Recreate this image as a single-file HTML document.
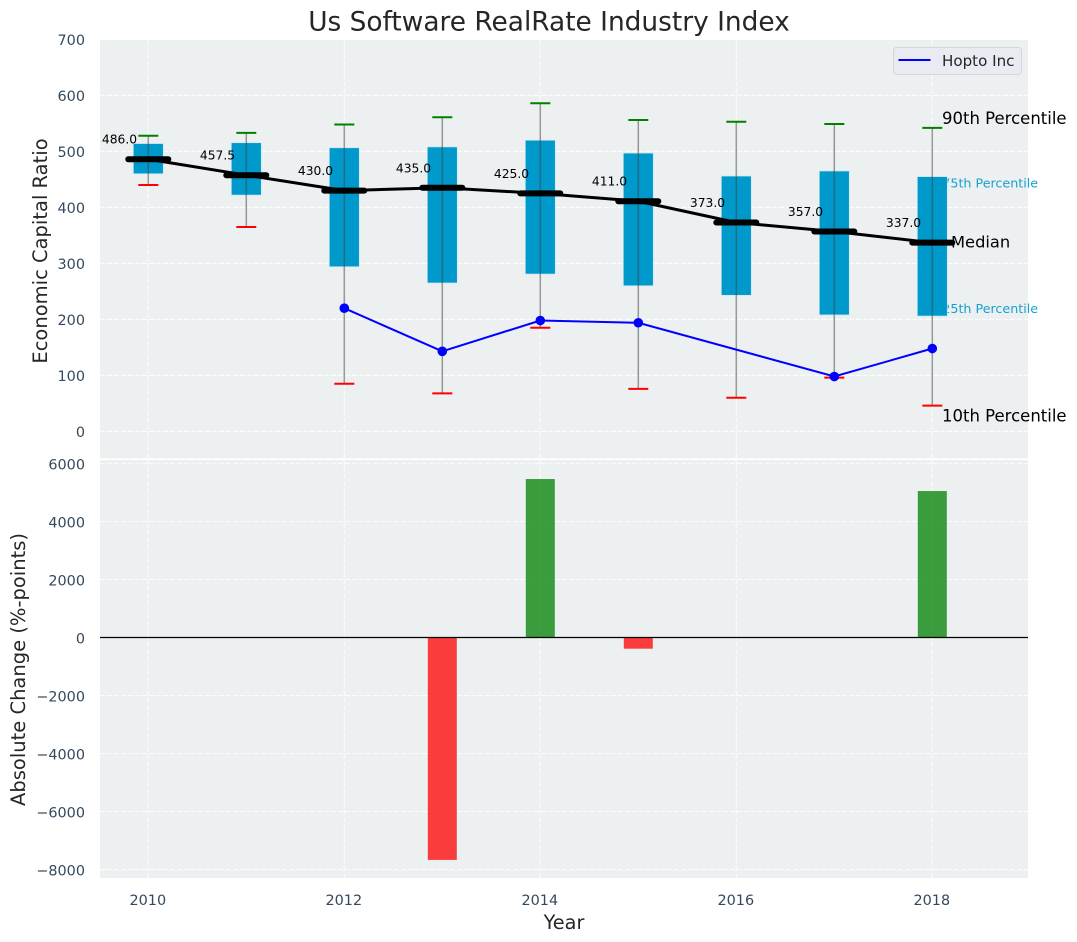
<!DOCTYPE html>
<html lang="en">
<head>
<meta charset="utf-8">
<title>Us Software RealRate Industry Index</title>
<style>
html,body{margin:0;padding:0;background:#fff;width:1077px;height:942px;overflow:hidden}
svg{display:block}
text{font-family:"DejaVu Sans","Liberation Sans",sans-serif}
</style>
</head>
<body>
<svg id="chart" xmlns="http://www.w3.org/2000/svg" width="1077" height="942" viewBox="0 0 1077 942">
  <rect x="100" y="40" width="928" height="419.5" fill="#ecf0f1"/>
  <rect x="100" y="459.5" width="928" height="418.5" fill="#ecf0f1"/>
  <g id="layer"></g>
  <line x1="100" x2="1028" y1="459.2" y2="459.2" stroke="#fff" stroke-width="1.6"/>
  <text x="549" y="30.5" text-anchor="middle" font-size="26.4" fill="#262626">Us Software RealRate Industry Index</text>
  <text transform="translate(47,251) rotate(-90)" text-anchor="middle" font-size="19.5" fill="#262626">Economic Capital Ratio</text>
  <text transform="translate(25,669.5) rotate(-90)" text-anchor="middle" font-size="19.5" fill="#262626">Absolute Change (%-points)</text>
  <text x="564" y="929" text-anchor="middle" font-size="19.3" fill="#262626">Year</text>
  <g>
    <rect x="893.5" y="47.5" width="128" height="27" rx="3" fill="#eaeaf2" stroke="#d5d5dc" stroke-width="1"/>
    <line x1="898.5" x2="930.5" y1="60" y2="60" stroke="#0000ff" stroke-width="2"/>
    <text x="942" y="66" font-size="15.1" fill="#262626">Hopto Inc</text>
  </g>
  <g id="annotations"></g>
</svg>
<script>
const years = [2010, 2011, 2012, 2013, 2014, 2015, 2016, 2017, 2018];
const p90 = [528, 533, 548, 561, 586, 556, 553, 549, 542];
const p75 = [514, 515.5, 506.5, 508, 520, 497, 456, 465, 455];
const median = [486, 457.5, 430, 435, 425, 411, 373, 357, 337];
const p25 = [460, 422, 294, 265, 281, 260, 243, 208, 206];
const p10 = [440, 365, 85, 68, 185, 76, 60, 96, 46];
const hopto = [null, null, 220, 143, 198, 194, null, 98, 148];
const changes = [0, 0, 0, -7670, 5465, -386, 0, 0, 5050];
const xTicks = [2010, 2012, 2014, 2016, 2018];
const topTicks = [0, 100, 200, 300, 400, 500, 600, 700];
const bottomTicks = [-8000, -6000, -4000, -2000, 0, 2000, 4000, 6000];

const NS = 'http://www.w3.org/2000/svg';
const layer = document.getElementById('layer');
function mk(tag, attrs, parent) {
  const el = document.createElementNS(NS, tag);
  for (const k in attrs) el.setAttribute(k, attrs[k]);
  (parent || layer).appendChild(el);
  return el;
}
function xPos(y) { return 148.3 + (y - 2010) * 98; }
function yTop(v) { return 431.4 - v * 0.56; }
function yBot(v) { return 637.5 - v * 0.029; }
function fmtTick(v) { return v < 0 ? '\u2212' + Math.abs(v) : String(v); }

const GRID = { stroke: '#ffffff', 'stroke-width': 1.1, 'stroke-dasharray': '5 2', opacity: 0.8 };

xTicks.forEach(function (t) {
  const a = mk('line', Object.assign({ x1: xPos(t), x2: xPos(t), y1: 40, y2: 459 }, GRID));
  
  
  const b = mk('line', Object.assign({ x1: xPos(t), x2: xPos(t), y1: 460, y2: 878 }, GRID));
  
  
  const lbl = mk('text', { x: xPos(t) - 0.5, y: 905, 'text-anchor': 'middle', 'font-size': 14.4, fill: '#34495e' });
  
  
  lbl.textContent = t;
});
topTicks.forEach(function (t) {
  const g = mk('line', Object.assign({ x1: 100, x2: 1028, y1: yTop(t), y2: yTop(t) }, GRID));
  
  
  const lbl = mk('text', { x: 85, y: yTop(t) + 5.7, 'text-anchor': 'end', 'font-size': 14.4, fill: '#34495e' });
  
  
  lbl.textContent = fmtTick(t);
});
bottomTicks.forEach(function (t) {
  const g = mk('line', Object.assign({ x1: 100, x2: 1028, y1: yBot(t), y2: yBot(t) }, GRID));
  
  
  const lbl = mk('text', { x: 85, y: yBot(t) + 6.2, 'text-anchor': 'end', 'font-size': 14.4, fill: '#34495e' });
  
  
  lbl.textContent = fmtTick(t);
});

const lastIdx = years.length - 1;
const lastX = xPos(years[lastIdx]);

const t75 = mk('text', { x: lastX + 10, y: yTop(p75[lastIdx]) + 11, 'font-size': 12.7, fill: '#0099cc', opacity: 0.9 });


t75.textContent = '75th Percentile';
const t25 = mk('text', { x: lastX + 10, y: yTop(p25[lastIdx]) - 3, 'font-size': 12.7, fill: '#0099cc', opacity: 0.9 });


t25.textContent = '25th Percentile';

years.forEach(function (y, i) {
  const x = xPos(y);
  const box = mk('rect', {
    x: x - 15, y: yTop(p75[i]), width: 30, height: yTop(p25[i]) - yTop(p75[i]),
    fill: '#0099cc', stroke: '#cfe6f0', 'stroke-width': 0.7
  });
  
  
  const stem = mk('line', { x1: x, x2: x, y1: yTop(p90[i]), y2: yTop(p10[i]), stroke: '#444', 'stroke-width': 1.5, opacity: 0.52 });
  
  
});

const medianLine = mk('polyline', {
  points: years.map(function (y, i) { return xPos(y) + ',' + yTop(median[i]); }).join(' '),
  fill: 'none', stroke: '#000', 'stroke-width': 3
});



years.forEach(function (y, i) {
  const x = xPos(y);
  const hi = mk('line', { x1: x - 10, x2: x + 10, y1: yTop(p90[i]), y2: yTop(p90[i]), stroke: '#008000', 'stroke-width': 2 });
  
  
  const lo = mk('line', { x1: x - 10, x2: x + 10, y1: yTop(p10[i]), y2: yTop(p10[i]), stroke: '#ff0000', 'stroke-width': 2 });
  
  
  const med = mk('line', { x1: x - 20, x2: x + 20, y1: yTop(median[i]), y2: yTop(median[i]), stroke: '#000', 'stroke-width': 6, 'stroke-linecap': 'round' });
  
  
  const val = mk('text', { x: x - 28.8, y: yTop(median[i]) - 15.5, 'text-anchor': 'middle', 'font-size': 12.3, fill: '#000' });
  
  
  val.textContent = median[i].toFixed(1);
});

const hoptoPts = [];
years.forEach(function (y, i) {
  if (hopto[i] !== null) hoptoPts.push(xPos(y) + ',' + yTop(hopto[i]));
});
const hoptoLine = mk('polyline', { points: hoptoPts.join(' '), fill: 'none', stroke: '#0000ff', 'stroke-width': 2 });


years.forEach(function (y, i) {
  if (hopto[i] === null) return;
  const pt = mk('circle', { cx: xPos(y), cy: yTop(hopto[i]), r: 4.8, fill: '#0000ff' });
  
  
});

const t90 = mk('text', { x: lastX + 9.7, y: yTop(p90[lastIdx]) - 4, 'font-size': 16.5, fill: '#000' });


t90.textContent = '90th Percentile';
const tMed = mk('text', { x: lastX + 18.7, y: yTop(median[lastIdx]) + 5, 'font-size': 16.3, fill: '#000' });


tMed.textContent = 'Median';
const t10 = mk('text', { x: lastX + 9.7, y: yTop(p10[lastIdx]) + 16, 'font-size': 16.5, fill: '#000' });


t10.textContent = '10th Percentile';

years.forEach(function (y, i) {
  const v = changes[i];
  if (v === 0) return;
  const top = Math.min(yBot(v), yBot(0));
  const bar = mk('rect', {
    x: xPos(y) - 14.5, y: top, width: 29, height: Math.abs(yBot(v) - yBot(0)),
    fill: v > 0 ? '#008000' : '#ff0000', 'fill-opacity': 0.75
  });
  
  
});

const zero = mk('line', { x1: 100, x2: 1028, y1: yBot(0), y2: yBot(0), stroke: '#000', 'stroke-width': 1.2 });


</script>
</body>
</html>
